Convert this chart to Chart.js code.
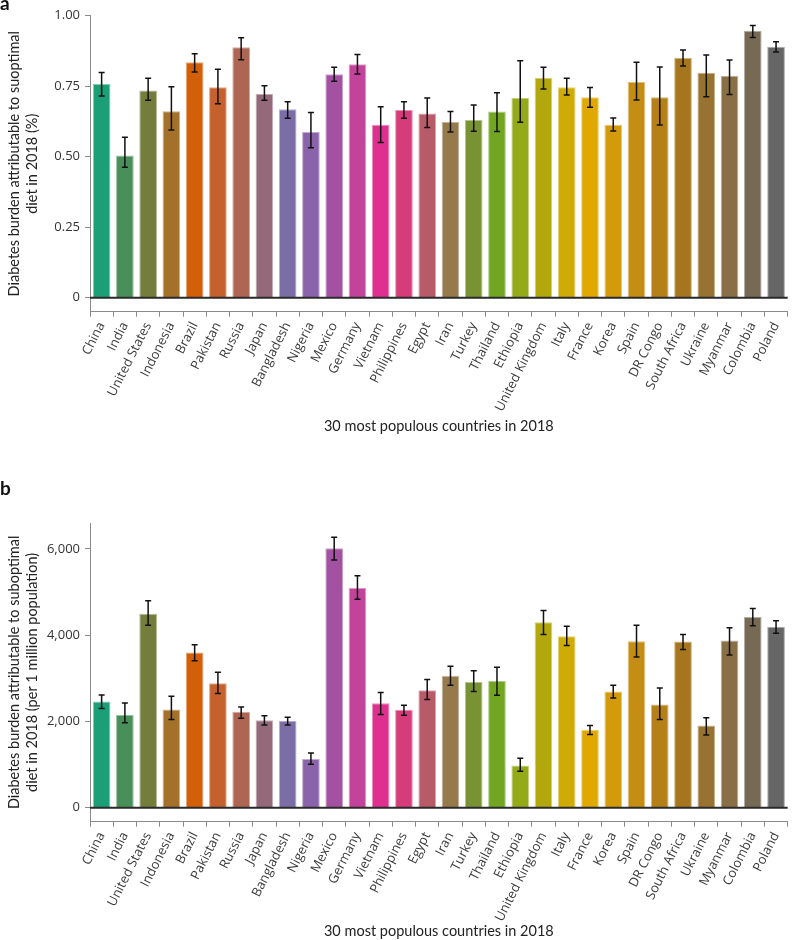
<!DOCTYPE html>
<html><head><meta charset="utf-8">
<script src="https://cdn.jsdelivr.net/npm/chart.js@4"></script>
<style>
body{margin:0;background:#fff;}
#wrap{position:relative;width:793px;height:940px;overflow:hidden;}
canvas{position:absolute;left:0;}
.lab{position:absolute;left:0;font:bold 19px Lato, sans-serif;color:#111;line-height:19px;}
</style></head>
<body><div id="wrap">
<canvas id="ca" width="793" height="470" style="top:0"></canvas>
<canvas id="cb" width="793" height="470" style="top:470px"></canvas>
<div class="lab" style="top:-7px">a</div>
<div class="lab" style="top:478px">b</div>
</div>
<script>
const countries = ['China','India','United States','Indonesia','Brazil','Pakistan','Russia','Japan','Bangladesh','Nigeria','Mexico','Germany','Vietnam','Philippines','Egypt','Iran','Turkey','Thailand','Ethiopia','United Kingdom','Italy','France','Korea','Spain','DR Congo','South Africa','Ukraine','Myanmar','Colombia','Poland'];

const colors = ['#1c9e77','#488f5a','#747d3c','#a3712a','#d35f08','#c4612c','#ad6653','#94697a','#7b6ea6','#8b63ab','#a352a1','#c2449a','#de318f','#d63b7a','#b65b67','#977a4c','#7a9332','#72a622','#95aa18','#b2a80e','#cfab05','#e0a902','#d39a0c','#c58d13','#b68018','#a6761e','#977230','#886f45','#766a55','#666666'];

// Panel a: share of diabetes burden attributable to suboptimal diet
const shareValues = [0.758,0.504,0.735,0.661,0.835,0.746,0.888,0.723,0.668,0.588,0.792,0.828,0.613,0.666,0.653,0.624,0.630,0.660,0.709,0.780,0.746,0.711,0.613,0.765,0.711,0.851,0.798,0.787,0.947,0.890];
const shareLow    = [0.715,0.463,0.700,0.595,0.800,0.688,0.844,0.700,0.636,0.532,0.768,0.793,0.550,0.636,0.604,0.588,0.590,0.589,0.622,0.740,0.719,0.675,0.591,0.701,0.612,0.822,0.713,0.721,0.923,0.871];
const shareHigh   = [0.799,0.569,0.778,0.748,0.865,0.810,0.922,0.752,0.695,0.657,0.817,0.862,0.677,0.695,0.708,0.660,0.683,0.727,0.840,0.817,0.778,0.745,0.637,0.835,0.818,0.878,0.861,0.843,0.965,0.908];
const shareTicks = [0,0.25,0.5,0.75,1];
const shareTickLabels = ['0','0.25','0.50','0.75','1.00'];

// Panel b: diabetes burden per 1 million population
const rateValues = [2463,2154,4494,2278,3600,2885,2223,2031,2015,1131,6017,5094,2423,2269,2723,3062,2915,2938,977,4300,3977,1808,2693,3862,2393,3854,1908,3877,4424,4193];
const rateLow    = [2301,1969,4231,2047,3409,2647,2077,1916,1916,1008,5740,4831,2162,2146,2508,2839,2693,2608,846,4016,3762,1700,2546,3493,2047,3670,1685,3539,4216,4046];
const rateHigh   = [2615,2430,4800,2585,3778,3139,2338,2130,2100,1269,6271,5378,2670,2377,2970,3277,3178,3254,1146,4570,4208,1908,2839,4231,2777,4016,2085,4170,4616,4332];
const rateTicks = [0,2000,4000,6000];
const rateTickLabels = ['0','2,000','4,000','6,000'];

function lighten(hex, f){
  const n = parseInt(hex.slice(1),16);
  const r=(n>>16)&255,g=(n>>8)&255,b=n&255;
  const m=c=>Math.round(c+(255-c)*f);
  return 'rgb('+m(r)+','+m(g)+','+m(b)+')';
}

function errPlugin(lo, hi){
  return {
    id:'err',
    afterDatasetsDraw(chart){
      const ctx=chart.ctx, ys=chart.scales.y, area=chart.chartArea;
      const meta=chart.getDatasetMeta(0);
      ctx.save();
      const y0=ys.getPixelForValue(0);
      ctx.strokeStyle='#2a2a2a'; ctx.lineWidth=2;
      ctx.beginPath(); ctx.moveTo(area.left,y0); ctx.lineTo(area.right,y0); ctx.stroke();
      ctx.strokeStyle='#111'; ctx.lineWidth=1.5;
      meta.data.forEach((bar,i)=>{
        const x=bar.x, a=ys.getPixelForValue(hi[i]), b=ys.getPixelForValue(lo[i]);
        ctx.beginPath();
        ctx.moveTo(x,a); ctx.lineTo(x,b);
        ctx.moveTo(x-3,a); ctx.lineTo(x+3,a);
        ctx.moveTo(x-3,b); ctx.lineTo(x+3,b);
        ctx.stroke();
      });
      ctx.restore();
    }
  };
}

function build(id, values, lo, hi, tickVals, tickLabels, yMin, yMax, yTitle, pad){
  return new Chart(document.getElementById(id), {
    type:'bar',
    data:{labels:countries, datasets:[{data:values, backgroundColor:colors, borderColor:colors.map(c=>lighten(c,0.45)), borderWidth:1, barPercentage:0.76, categoryPercentage:1}]},
    options:{
      responsive:false, animation:false, devicePixelRatio:1,
      layout:{padding:{left:4.5, right:3, top:pad.top, bottom:pad.bottom}},
      plugins:{legend:{display:false}, tooltip:{enabled:false}},
      scales:{
        x:{
          grid:{display:true, drawOnChartArea:false, drawTicks:true, tickLength:5, color:'#8a8a8a', tickColor:'#8a8a8a'},
          border:{color:'#8a8a8a', width:1},
          ticks:{minRotation:63, maxRotation:63, autoSkip:false, color:'#3a3a3a', font:{family:"'Open Sans'", size:13}, padding:3},
          title:{display:true, text:'30 most populous countries in 2018', color:'#222', font:{family:'Lato', size:14.5}, padding:0},
          afterFit:(s)=>{s.height=pad.xh;}
        },
        y:{
          min:yMin, max:yMax,
          afterBuildTicks:(s)=>{s.ticks=tickVals.map(v=>({value:v}));},
          ticks:{callback:(v)=>tickLabels[tickVals.indexOf(v)], color:'#333', font:{family:"'Open Sans'", size:13}, padding:5},
          grid:{drawOnChartArea:false, drawTicks:true, tickLength:5, color:'#8a8a8a'},
          border:{color:'#8a8a8a', width:1},
          title:{display:true, text:yTitle, color:'#222', font:{family:'Lato', size:14.5, lineHeight:1.3}, padding:0},
          afterFit:(s)=>{s.width=85.5;}
        }
      }
    },
    plugins:[errPlugin(lo,hi)]
  });
}

build('ca', shareValues, shareLow, shareHigh, shareTicks, shareTickLabels, -0.0496, 1.0,
  ['Diabetes burden attributable to suoptimal','diet in 2018 (%)'], {top:15.7, bottom:35, xh:123.3});
build('cb', rateValues, rateLow, rateHigh, rateTicks, rateTickLabels, -323, 6600,
  ['Diabetes burden attributable to suboptimal','diet in 2018 (per 1 million population)'], {top:53, bottom:0, xh:118.3});
</script>
</body></html>
